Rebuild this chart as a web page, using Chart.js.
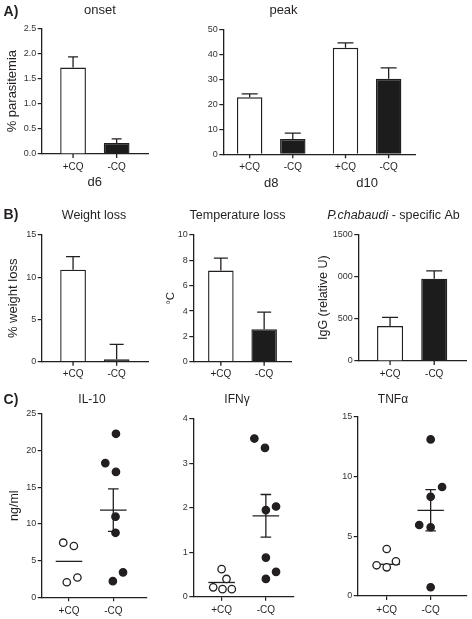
<!DOCTYPE html>
<html>
<head>
<meta charset="utf-8">
<script src="https://cdn.jsdelivr.net/npm/chart.js@4.4.0/dist/chart.umd.min.js"></script>
<style>
  body { margin: 0; background: #fff; width: 472px; height: 619px; position: relative; overflow: hidden; }
  canvas { position: absolute; }
</style>
</head>
<body>
<script>
// ---------- data ----------
const groups = ['+CQ', '-CQ'];

// A) % parasitemia
const onsetDays = ['d6'];
const onsetPlus = [1.72], onsetPlusErr = [0.21];
const onsetMinus = [0.22], onsetMinusErr = [0.08];
const onsetTickLabels = ['0.0', '0.5', '1.0', '1.5', '2.0', '2.5'];

const peakDays = ['d8', 'd10'];
const peakPlus = [22.8, 42.6], peakPlusErr = [1.4, 2.0];
const peakMinus = [6.1, 30.2], peakMinusErr = [2.4, 4.4];

// B) weight loss, temperature loss, IgG
const weightPlus = [10.9], weightPlusErr = [1.55];
const weightMinus = [0.3], weightMinusErr = [1.75];

const tempPlus = [7.2], tempPlusErr = [0.98];
const tempMinus = [2.56], tempMinusErr = [1.36];

const igPlus = [414], igPlusErr = [103];
const igMinus = [975], igMinusErr = [91];
const igTickLabels = ['0', '500', '000', '1500'];

// C) cytokines (ng/ml), individual mice + jitter
const il10Plus = [7.45, 7.0, 2.05, 2.7];
const il10PlusJit = [-0.13, 0.11, -0.05, 0.19];
const il10Minus = [22.3, 18.3, 17.1, 11.0, 8.8, 2.2, 3.4];
const il10MinusJit = [0.06, -0.18, 0.06, 0.05, 0.05, -0.01, 0.22];
const il10Mean = [4.9, 11.9], il10Sem = [null, 2.9];

const ifnPlus = [0.62, 0.40, 0.21, 0.17, 0.17];
const ifnPlusJit = [0, 0.11, -0.19, 0.02, 0.23];
const ifnMinus = [3.56, 3.35, 1.95, 2.03, 0.88, 0.40, 0.56];
const ifnMinusJit = [-0.26, -0.02, 0, 0.23, 0, 0, 0.23];
const ifnMean = [0.32, 1.82], ifnSem = [null, 0.48];

const tnfPlus = [3.93, 2.57, 2.4, 2.9];
const tnfPlusJit = [0, -0.23, 0, 0.21];
const tnfMinus = [13.1, 9.12, 8.3, 5.94, 5.75, 0.73];
const tnfMinusJit = [0, 0.26, 0, -0.26, 0, 0];
const tnfMean = [2.65, 7.17], tnfSem = [null, 1.73];

// ---------- look ----------
const INK = '#231f20';
const FONT = '"Liberation Sans", Arial, Helvetica, sans-serif';
Chart.defaults.font.family = FONT;
Chart.defaults.color = INK;
Chart.defaults.animation = false;
Chart.defaults.responsive = false;
Chart.defaults.plugins.legend.display = false;
Chart.defaults.plugins.tooltip.enabled = false;

function makeCanvas(box) {
  const c = document.createElement('canvas');
  c.width = box[2]; c.height = box[3];
  c.style.left = box[0] + 'px'; c.style.top = box[1] + 'px';
  c.style.width = box[2] + 'px'; c.style.height = box[3] + 'px';
  document.body.appendChild(c);
  return c;
}

// box = [x, y, w, h] of canvas on page, area = [l, t, r, b] wanted plot area on page
function frame(box, area) {
  return {
    padding: { left: 0, top: area[1] - box[1], right: box[0] + box[2] - area[2], bottom: 0 },
    yWidth: area[0] - box[0],
    xHeight: box[1] + box[3] - area[3]
  };
}

// titles / panel letters, given in page coordinates
function textPlugin(box, items) {
  return {
    id: 'panelText',
    afterDraw(chart) {
      const ctx = chart.ctx;
      ctx.save();
      ctx.fillStyle = INK;
      ctx.textBaseline = 'middle';
      ctx.textAlign = 'left';
      items.forEach(it => {
        const parts = it.parts || [{ t: it.t }];
        const fonts = parts.map(p => (p.italic ? 'italic ' : '') + (it.bold ? 'bold ' : '') + it.size + 'px ' + FONT);
        let total = 0;
        const widths = parts.map((p, i) => { ctx.font = fonts[i]; const w = ctx.measureText(p.t).width; total += w; return w; });
        let x = it.x - box[0] - total / 2;
        parts.forEach((p, i) => { ctx.font = fonts[i]; ctx.fillText(p.t, x, it.y - box[1]); x += widths[i]; });
      });
      ctx.restore();
    }
  };
}

function yAxis(f, max, step, title, tsize, tpad, labels) {
  return {
    min: 0, max: max,
    ticks: {
      stepSize: step, font: { size: 9 }, color: '#333', padding: 1.5,
      callback: labels ? (v, i) => labels[i] : undefined
    },
    grid: { drawOnChartArea: false, drawTicks: true, tickLength: 4, color: INK, lineWidth: 1.2 },
    border: { display: true, color: INK, width: 1.3 },
    title: title ? { display: true, text: title, font: { size: tsize }, color: INK, padding: { top: tpad, bottom: 0 } } : { display: false },
    afterFit(s) { s.width = f.yWidth; }
  };
}

// bar panels: whiskers above bars, +CQ / -CQ under each bar
function barChart(box, area, o) {
  const f = frame(box, area);
  const extras = {
    id: 'barExtras',
    afterDatasetsDraw(chart) {
      const ctx = chart.ctx, y = chart.scales.y, ca = chart.chartArea;
      ctx.save();
      ctx.strokeStyle = INK; ctx.fillStyle = INK; ctx.lineWidth = 1.3;
      ctx.font = '10px ' + FONT; ctx.textAlign = 'center'; ctx.textBaseline = 'middle';
      chart.data.datasets.forEach((ds, i) => {
        chart.getDatasetMeta(i).data.forEach((bar, j) => {
          const top = y.getPixelForValue(ds.data[j] + o.errs[i][j]);
          ctx.beginPath();
          ctx.moveTo(bar.x, bar.y); ctx.lineTo(bar.x, top);
          ctx.moveTo(bar.x - o.cap, top); ctx.lineTo(bar.x + o.cap, top);
          ctx.moveTo(bar.x, ca.bottom); ctx.lineTo(bar.x, ca.bottom + 4);
          ctx.stroke();
          ctx.fillText(ds.label, bar.x, ca.bottom + 13);
        });
      });
      ctx.restore();
    }
  };
  return new Chart(makeCanvas(box), {
    type: 'bar',
    data: {
      labels: o.days,
      datasets: [
        { label: groups[0], data: o.plus, backgroundColor: '#ffffff', borderColor: INK, borderWidth: 1.4 },
        { label: groups[1], data: o.minus, backgroundColor: '#1c1c1c', borderColor: INK, borderWidth: 1.4 }
      ]
    },
    options: {
      layout: { padding: f.padding },
      datasets: { bar: { categoryPercentage: o.cat, barPercentage: 0.59, borderSkipped: 'start' } },
      scales: {
        x: {
          grid: { display: false, drawTicks: false },
          border: { display: true, color: INK, width: 1.3 },
          ticks: { padding: 21, font: { size: 13 }, color: INK },
          afterFit(s) { s.height = f.xHeight; }
        },
        y: yAxis(f, o.max, o.step, o.ytitle, o.tsize, o.tpad, o.ticks)
      }
    },
    plugins: [extras, textPlugin(box, o.texts)]
  });
}

// dot panels: scatter with mean line and SEM whisker
function dotChart(box, area, o) {
  const f = frame(box, area);
  const extras = {
    id: 'dotExtras',
    beforeDatasetsDraw(chart) {
      const ctx = chart.ctx, x = chart.scales.x, y = chart.scales.y;
      ctx.save();
      ctx.strokeStyle = INK; ctx.lineWidth = 1.3;
      o.mean.forEach((m, g) => {
        const ym = y.getPixelForValue(m);
        ctx.beginPath();
        ctx.moveTo(x.getPixelForValue(g - 0.3), ym); ctx.lineTo(x.getPixelForValue(g + 0.3), ym);
        if (o.sem[g] != null) {
          const yt = y.getPixelForValue(m + o.sem[g]), yb = y.getPixelForValue(m - o.sem[g]);
          const xc = x.getPixelForValue(g), xl = x.getPixelForValue(g - 0.12), xr = x.getPixelForValue(g + 0.12);
          ctx.moveTo(xc, yt); ctx.lineTo(xc, yb);
          ctx.moveTo(xl, yt); ctx.lineTo(xr, yt);
          ctx.moveTo(xl, yb); ctx.lineTo(xr, yb);
        }
        ctx.stroke();
      });
      ctx.restore();
    }
  };
  const pts = (vals, jit, g) => vals.map((v, i) => ({ x: g + jit[i], y: v }));
  return new Chart(makeCanvas(box), {
    type: 'scatter',
    data: {
      datasets: [
        { data: pts(o.plus, o.plusJit, 0), pointRadius: 3.7, pointBorderWidth: 1.3, pointBackgroundColor: '#ffffff', pointBorderColor: INK },
        { data: pts(o.minus, o.minusJit, 1), pointRadius: 3.7, pointBorderWidth: 1.3, pointBackgroundColor: INK, pointBorderColor: INK }
      ]
    },
    options: {
      layout: { padding: f.padding },
      scales: {
        x: {
          type: 'linear', min: o.xmin, max: o.xmax,
          afterBuildTicks(s) { s.ticks = [{ value: 0 }, { value: 1 }]; },
          ticks: { callback: v => groups[v], font: { size: 10 }, color: INK, padding: 4, maxRotation: 0 },
          grid: { drawOnChartArea: false, drawTicks: true, tickLength: 4, color: INK, lineWidth: 1.2 },
          border: { display: true, color: INK, width: 1.3 },
          afterFit(s) { s.height = f.xHeight; }
        },
        y: yAxis(f, o.max, o.step, o.ytitle, o.tsize, o.tpad)
      }
    },
    plugins: [extras, textPlugin(box, o.texts)]
  });
}

// ---------- A) ----------
barChart([0, 0, 180, 198], [41.7, 28.3, 148, 154], {
  days: onsetDays, plus: onsetPlus, minus: onsetMinus, errs: [onsetPlusErr, onsetMinusErr],
  cat: 0.82, cap: 5, max: 2.5, step: 0.5, ytitle: '% parasitemia', tsize: 13, tpad: 5, ticks: onsetTickLabels,
  texts: [{ t: 'A)', x: 11, y: 12, size: 14, bold: true }, { t: 'onset', x: 100, y: 10, size: 13 }]
});
barChart([180, 0, 292, 198], [223.3, 29.3, 415, 154.3], {
  days: peakDays, plus: peakPlus, minus: peakMinus, errs: [peakPlusErr, peakMinusErr],
  cat: 0.9, cap: 8, max: 50, step: 10,
  texts: [{ t: 'peak', x: 283.5, y: 10, size: 13 }]
});

// ---------- B) ----------
barChart([0, 200, 160, 190], [41.7, 235, 148, 361.7], {
  days: [''], plus: weightPlus, minus: weightMinus, errs: [weightPlusErr, weightMinusErr],
  cat: 0.82, cap: 7, max: 15, step: 5, ytitle: '% weight loss', tsize: 13, tpad: 6,
  texts: [{ t: 'B)', x: 11, y: 215.5, size: 14, bold: true }, { t: 'Weight loss', x: 94, y: 215.5, size: 12.5 }]
});
barChart([160, 200, 150, 190], [193.3, 235, 291.7, 361.7], {
  days: [''], plus: tempPlus, minus: tempMinus, errs: [tempPlusErr, tempMinusErr],
  cat: 0.88, cap: 7, max: 10, step: 2, ytitle: '\u00B0C', tsize: 11.5, tpad: 3.5,
  texts: [{ t: 'Temperature loss', x: 237.5, y: 215.5, size: 12.5 }]
});
barChart([310, 200, 162, 190], [358.3, 234.3, 466, 361], {
  days: [''], plus: igPlus, minus: igMinus, errs: [igPlusErr, igMinusErr],
  cat: 0.82, cap: 8, max: 1500, step: 500, ytitle: 'IgG (relative U)', tsize: 12.5, tpad: 6.5, ticks: igTickLabels,
  texts: [{ parts: [{ t: 'P.chabaudi', italic: true }, { t: ' - specific Ab' }], x: 393.5, y: 215.5, size: 12.5 }]
});

// ---------- C) ----------
dotChart([0, 390, 160, 229], [41.7, 414, 146.7, 597.3], {
  plus: il10Plus, plusJit: il10PlusJit, minus: il10Minus, minusJit: il10MinusJit,
  mean: il10Mean, sem: il10Sem, xmin: -0.616, xmax: 1.754,
  max: 25, step: 5, ytitle: 'ng/ml', tsize: 12.5, tpad: 7.5,
  texts: [{ t: 'C)', x: 11, y: 400, size: 14, bold: true }, { t: 'IL-10', x: 92, y: 400, size: 12 }]
});
dotChart([160, 390, 150, 229], [193.3, 419, 293.3, 596.7], {
  plus: ifnPlus, plusJit: ifnPlusJit, minus: ifnMinus, minusJit: ifnMinusJit,
  mean: ifnMean, sem: ifnSem, xmin: -0.64, xmax: 1.62,
  max: 4, step: 1,
  texts: [{ t: 'IFN\u03B3', x: 237, y: 400, size: 12 }]
});
dotChart([310, 390, 162, 229], [357.7, 416.7, 466.7, 596], {
  plus: tnfPlus, plusJit: tnfPlusJit, minus: tnfMinus, minusJit: tnfMinusJit,
  mean: tnfMean, sem: tnfSem, xmin: -0.66, xmax: 1.82,
  max: 15, step: 5,
  texts: [{ t: 'TNF\u03B1', x: 393, y: 400, size: 12 }]
});
</script>
</body>
</html>
